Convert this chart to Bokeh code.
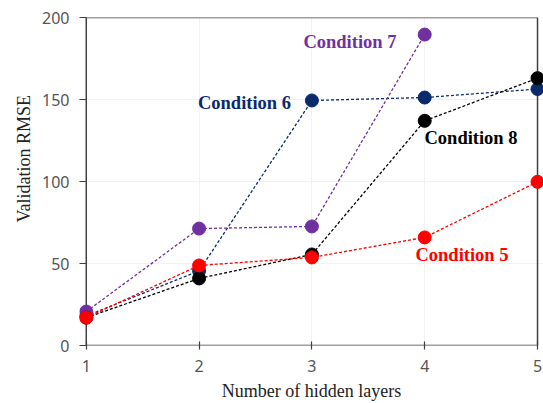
from bokeh.plotting import figure
from bokeh.models import Range1d, FixedTicker, BoxAnnotation, ColumnDataSource, Title
from bokeh.core.properties import value
from bokeh.embed import file_html
from bokeh.resources import INLINE

# Number of hidden layers
layers = [1, 2, 3, 4, 5]

# Validation RMSE for each condition
cond5 = [17, 48.8, 53.7, 65.9, 99.8]
cond6 = [18, 45.5, 149.4, 151.2, 156.4]
cond7 = [20.7, 71.3, 72.6, 189.6]
cond8 = [17, 40.9, 55.5, 137.0, 163.0]

y_ticks = [0, 50, 100, 150, 200]

series = [
    ("Condition 6", layers, cond6, "#0B2A6B"),
    ("Condition 7", layers[:len(cond7)], cond7, "#7030A0"),
    ("Condition 8", layers, cond8, "#000000"),
    ("Condition 5", layers, cond5, "#FF0000"),
]

# label anchor (x, y in data units) for each condition's name
label_pos = {
    "Condition 7": (2.925, 184.8),
    "Condition 6": (1.99, 147.6),
    "Condition 8": (3.998, 126.8),
    "Condition 5": (3.918, 54.9),
}

p = figure(
    width=543, height=403,
    output_backend="svg", toolbar_location=None,
    x_range=Range1d(0.94, 5.053), y_range=Range1d(0, 200),
    min_border_left=79, min_border_right=0, min_border_top=17, min_border_bottom=58,
)
p.outline_line_color = None
p.background_fill_color = "white"

# axes
p.xaxis.ticker = FixedTicker(ticks=layers)
p.yaxis.ticker = FixedTicker(ticks=y_ticks)
for ax in (p.xaxis, p.yaxis):
    ax.axis_line_color = None
    ax.major_tick_line_color = "#404040"
    ax.major_tick_line_width = 1.2
    ax.minor_tick_line_color = None
    ax.major_label_text_font = "Noto Sans"
    ax.major_label_text_font_size = "16px"
    ax.major_label_text_color = "#555555"
    ax.axis_label_text_font = "Liberation Serif"
    ax.axis_label_text_font_size = "18px"
    ax.axis_label_text_font_style = "normal"
    ax.axis_label_text_color = "#222222"

p.xaxis.axis_label = "Number of hidden layers"
p.xaxis.major_tick_in = 4
p.xaxis.major_tick_out = 4
p.xaxis.major_label_standoff = 10
p.xaxis.axis_label_standoff = 6

p.yaxis.major_tick_in = 7
p.yaxis.major_tick_out = 0
p.yaxis.major_label_standoff = 10

# y-axis title, starting some way up from the frame's bottom
p.add_layout(Title(text="Validation RMSE", align="left", offset=123,
                   text_font="Liberation Serif", text_font_size="18px",
                   text_font_style="normal", text_color="#222222", standoff=12), "left")

p.xgrid.grid_line_color = "#f2f2f2"
p.ygrid.grid_line_color = "#f2f2f2"

# plot frame spanning 1..5 by 0..200
p.add_layout(BoxAnnotation(left=layers[0], right=layers[-1], bottom=y_ticks[0], top=y_ticks[-1],
                           fill_alpha=0, line_color="#404040", line_alpha=1.0, line_width=1.5,
                           level="underlay"))

for name, xs, ys, color in series:
    src = ColumnDataSource(dict(x=xs, y=ys))
    p.line("x", "y", source=src, line_color=color, line_dash="3 2", line_width=1.3)
    p.scatter("x", "y", source=src, size=13, fill_color=color, line_color=color)

for name, xs, ys, color in series:
    lx, ly = label_pos[name]
    p.text(x=[lx], y=[ly], text=[name], text_color=color,
           text_font=value("Liberation Serif"), text_font_style="bold",
           text_font_size="18.5px", text_baseline="middle", text_align="left")

open("out.html", "w").write(file_html(p, INLINE))
